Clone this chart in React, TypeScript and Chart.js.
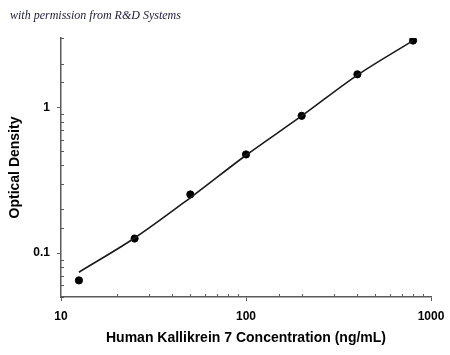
import React, { useEffect, useRef } from "react";
import { Chart, registerables } from "chart.js";

Chart.register(...registerables);

const concentrations = [12.5, 25, 50, 100, 200, 400, 800];
const opticalDensity = [0.065, 0.126, 0.253, 0.476, 0.877, 1.69, 2.88];
const fitConcentrations = [12.5, 25, 50, 100, 200, 400, 800];
const fitOpticalDensity = [0.074, 0.127, 0.24, 0.47, 0.875, 1.67, 2.88];
const xTitle = "Human Kallikrein 7 Concentration (ng/mL)";
const yTitle = "Optical Density";
const noteText = "with permission from R&D Systems";

const FONT = "'Liberation Sans', Arial, sans-serif";
const AXIS_COLOR = "#5a5a5a";

const isDecade = (v: number) => {
  const l = Math.log10(v);
  return Math.abs(l - Math.round(l)) < 1e-9;
};

const minorTicks = {
  id: "minorTicks",
  afterDraw(chart: any) {
    const ctx = chart.ctx;
    const area = chart.chartArea;
    ctx.save();
    ctx.strokeStyle = AXIS_COLOR;
    ctx.lineWidth = 1;
    const xs = chart.scales.x;
    xs.ticks.forEach((t: any) => {
      if (isDecade(t.value)) return;
      const px = Math.round(xs.getPixelForValue(t.value)) + 0.5;
      ctx.beginPath();
      ctx.moveTo(px, area.bottom);
      ctx.lineTo(px, area.bottom - 3);
      ctx.stroke();
    });
    const ys = chart.scales.y;
    ys.ticks.forEach((t: any) => {
      if (isDecade(t.value)) return;
      const py = Math.round(ys.getPixelForValue(t.value)) + 0.5;
      ctx.beginPath();
      ctx.moveTo(area.left, py);
      ctx.lineTo(area.left + 3, py);
      ctx.stroke();
    });
    ctx.restore();
  },
};

const notePlugin = {
  id: "note",
  afterDraw(chart: any) {
    const ctx = chart.ctx;
    ctx.save();
    ctx.font = "italic 12px 'Liberation Serif', serif";
    ctx.fillStyle = "#1c1c3c";
    ctx.textBaseline = "middle";
    ctx.textAlign = "left";
    ctx.fillText(noteText, 10, 16);
    ctx.restore();
  },
};

export default function App() {
  const ref = useRef<HTMLCanvasElement>(null);

  useEffect(() => {
    if (!ref.current) return;
    const chart = new Chart(ref.current, {
      type: "scatter",
      data: {
        datasets: [
          {
            label: "fit",
            data: fitConcentrations.map((x, i) => ({ x, y: fitOpticalDensity[i] })),
            showLine: true,
            borderColor: "#1a1a1a",
            borderWidth: 1.6,
            pointRadius: 0,
            cubicInterpolationMode: "monotone",
          } as any,
          {
            label: "data",
            data: concentrations.map((x, i) => ({ x, y: opticalDensity[i] })),
            showLine: false,
            backgroundColor: "#000",
            borderColor: "#000",
            pointRadius: 3.6,
            pointHoverRadius: 3.6,
          },
        ],
      },
      options: {
        animation: false,
        responsive: true,
        maintainAspectRatio: false,
        layout: { padding: { top: 38, right: 19, left: 0, bottom: 0 } },
        plugins: { legend: { display: false }, tooltip: { enabled: false } },
        scales: {
          x: {
            type: "logarithmic",
            min: 10,
            max: 1000,
            border: { display: true, color: AXIS_COLOR, width: 1.5 },
            grid: {
              drawOnChartArea: false,
              drawTicks: true,
              tickLength: 4,
              color: (c: any) => (c.tick && isDecade(c.tick.value) ? AXIS_COLOR : "rgba(0,0,0,0)"),
            },
            ticks: {
              autoSkip: false,
              maxRotation: 0,
              padding: 8,
              color: "#000",
              font: { family: FONT, size: 12, weight: "bold" },
              callback: (v: any) => (isDecade(Number(v)) ? String(Number(Number(v).toPrecision(6))) : ""),
            },
            title: {
              display: true,
              text: xTitle,
              color: "#000",
              font: { family: FONT, size: 14, weight: "bold" },
              padding: { top: 0, bottom: 8 },
            },
            afterFit: (s: any) => {
              s.height = 58;
              s.paddingLeft = 0;
              s.paddingRight = 0;
            },
          },
          y: {
            type: "logarithmic",
            min: 0.05,
            max: 3,
            border: { display: true, color: AXIS_COLOR, width: 1.5 },
            grid: {
              drawOnChartArea: false,
              drawTicks: true,
              tickLength: 4,
              color: (c: any) => (c.tick && isDecade(c.tick.value) ? AXIS_COLOR : "rgba(0,0,0,0)"),
            },
            ticks: {
              autoSkip: false,
              padding: 7,
              color: "#000",
              font: { family: FONT, size: 12, weight: "bold" },
              callback: (v: any) => (isDecade(Number(v)) ? String(Number(Number(v).toPrecision(6))) : ""),
            },
            title: {
              display: true,
              text: yTitle,
              color: "#000",
              font: { family: FONT, size: 14, weight: "bold" },
              padding: { top: 7, bottom: 0 },
            },
            afterFit: (s: any) => {
              s.width = 61;
              s.paddingTop = 0;
              s.paddingBottom = 0;
            },
          },
        },
      },
      plugins: [minorTicks, notePlugin],
    });
    return () => chart.destroy();
  }, []);

  return (
    <div style={{ position: "fixed", left: 0, top: 0, width: 450, height: 355, background: "#fff" }}>
      <canvas ref={ref} />
    </div>
  );
}
